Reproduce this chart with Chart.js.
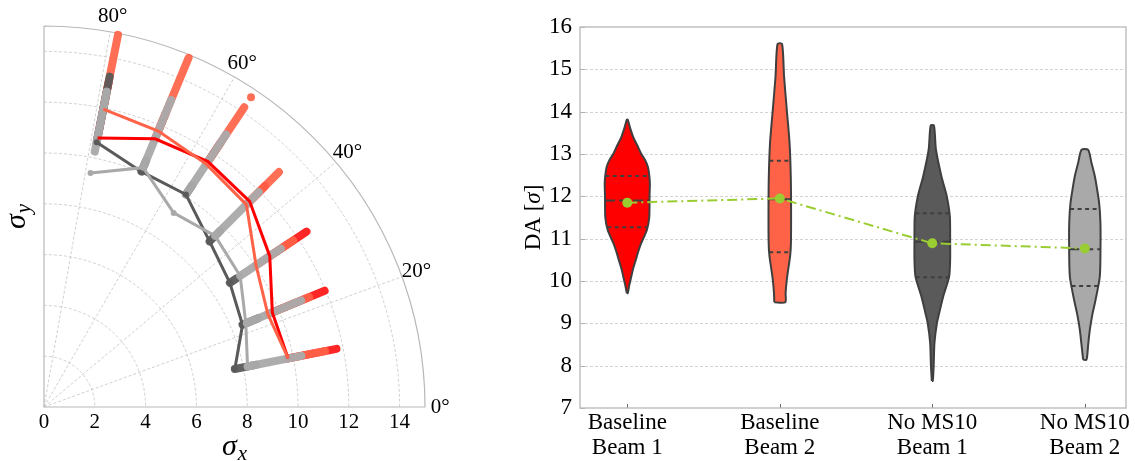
<!DOCTYPE html>
<html>
<head>
<meta charset="utf-8">
<script src="https://cdn.jsdelivr.net/npm/chart.js@4"></script>
<style>
  html, body { margin: 0; padding: 0; background: #fff; }
  #wrap { position: relative; width: 1135px; height: 461px; overflow: hidden; }
  #polarChart { position: absolute; left: 0; top: 0; }
  #violinChart { position: absolute; left: 480px; top: 0; }
</style>
</head>
<body>
<div id="wrap">
  <canvas id="polarChart" width="480" height="461" style="width:480px;height:461px"></canvas>
  <canvas id="violinChart" width="655" height="461" style="width:655px;height:461px"></canvas>
</div>
<script>
// ---- polar DA scan ----
const scanAngles = [11.25, 22.5, 33.75, 45, 56.25, 67.5, 78.75];
const radiusTicks = [0, 2, 4, 6, 8, 10, 12, 14];
const ringValues = [2, 4, 6, 8, 10, 12, 14];
const angleTicks = [0, 20, 40, 60, 80];
const rMax = 15;

// DA per angle, one curve per configuration
const daBaseB1 = [9.8, 9.73, 10.69, 11.45, 11.62, 11.43, 10.8];
const daBaseB2 = [9.8, 9.54, 10.04, 11.27, 11.5, 11.76, 11.96];
const daNoMsB1 = [7.66, 8.46, 8.8, 9.22, 10.06, 10.03, 10.63];
const daNoMsB2 = [8.17, 8.6, 9.29, 9.53, 9.19, 10.2, 9.39];

// spread of the seeds along each angle (lowest / highest)
const seedLoBaseB1 = [9.8, 9.73, 10.69, 11.45, 11.62, 11.43, 10.8];
const seedHiBaseB1 = [11.74, 11.96, 12.43, 12.3, 12.5, 12.5, 13.0];
const seedLoBaseB2 = [9.8, 9.54, 10.04, 11.27, 11.5, 11.76, 11.96];
const seedHiBaseB2 = [11.28, 11.3, 11.8, 13.08, 14.19, 14.88, 14.94];
const seedLoNoMsB1 = [7.66, 8.46, 8.8, 9.22, 10.06, 10.03, 10.63];
const seedHiNoMsB1 = [8.5, 9.13, 9.1, 9.8, 10.5, 10.5, 13.26];
const seedLoNoMsB2 = [8.17, 8.6, 9.29, 9.53, 10.06, 10.2, 10.25];
const seedHiNoMsB2 = [10.33, 10.96, 11.22, 11.96, 12.9, 13.09, 12.66];
// single seed sitting apart from the rest
const extraSeedAngle = [56.25];
const extraSeedR = [14.67];

// ---- violin summary ----
const categoryPos = [0, 1, 2, 3];
const categoryLabels = [['Baseline', 'Beam 1'], ['Baseline', 'Beam 2'], ['No MS10', 'Beam 1'], ['No MS10', 'Beam 2']];
const daTicks = [7, 8, 9, 10, 11, 12, 13, 14, 15, 16];

// density outlines: DA level and half width (category units)
const base1Y = [9.71, 9.9, 10.1, 10.3, 10.5, 10.7, 10.9, 11.2, 11.5, 12.0, 12.3, 12.5, 12.7, 12.85, 13.0, 13.2, 13.4, 13.6, 13.81];
const base1W = [0.003, 0.013, 0.026, 0.039, 0.056, 0.072, 0.092, 0.128, 0.144, 0.146, 0.148, 0.144, 0.135, 0.118, 0.092, 0.066, 0.039, 0.020, 0.003];
const base2Y = [9.5, 9.71, 10.0, 10.27, 10.6, 10.9, 11.68, 12.47, 13.26, 14.04, 14.83, 15.6];
const base2W = [0.036, 0.038, 0.045, 0.055, 0.068, 0.073, 0.074, 0.072, 0.064, 0.046, 0.028, 0.015];
const noms1Y = [7.64, 8.0, 8.53, 9.0, 9.3, 9.63, 10.1, 10.5, 10.9, 11.52, 12.0, 12.47, 13.1, 13.67];
const noms1W = [0.003, 0.009, 0.014, 0.030, 0.049, 0.071, 0.110, 0.117, 0.117, 0.115, 0.095, 0.060, 0.024, 0.011];
const noms2Y = [8.14, 8.5, 8.85, 9.2, 9.48, 10.1, 10.9, 11.4, 11.84, 12.2, 12.47, 12.8, 13.1];
const noms2W = [0.011, 0.022, 0.033, 0.049, 0.066, 0.098, 0.103, 0.102, 0.094, 0.079, 0.066, 0.043, 0.022];

// quartiles (Q1, median, Q3) and means
const base1Q = [11.27, 11.9, 12.48];
const base2Q = [10.68, 11.93, 12.84];
const noms1Q = [10.09, 10.93, 11.6];
const noms2Q = [9.88, 10.75, 11.7];
const daMeans = [11.85, 11.95, 10.89, 10.77];

const serif = '"Liberation Serif", "Times New Roman", serif';
const colRed = '#ff0000', colTomato = '#ff6347', colDark = '#5a5a5a', colLight = '#a9a9a9';

function toXY(r, deg) {
  const a = deg * Math.PI / 180;
  return { x: r * Math.cos(a), y: r * Math.sin(a) };
}

// ---------- polar chart ----------
const polarSeries = [
  { lo: seedLoBaseB1, hi: seedHiBaseB1, line: daBaseB1, color: colRed, band: 'rgba(255,0,0,0.85)', marker: 0 },
  { lo: seedLoBaseB2, hi: seedHiBaseB2, line: daBaseB2, color: colTomato, band: 'rgba(255,99,71,0.92)', marker: 0 },
  { lo: seedLoNoMsB1, hi: seedHiNoMsB1, line: daNoMsB1, color: colDark, band: 'rgba(90,90,90,0.95)', marker: 3 },
  { lo: seedLoNoMsB2, hi: seedHiNoMsB2, line: daNoMsB2, color: colLight, band: 'rgba(170,170,170,0.97)', marker: 3 }
];

const polarDatasets = [];
polarSeries.forEach((s, si) => {
  scanAngles.forEach((ang, i) => {
    polarDatasets.push({
      data: [toXY(s.lo[i], ang), toXY(s.hi[i], ang)],
      showLine: true,
      borderColor: s.band,
      borderWidth: 8,
      borderCapStyle: 'round',
      pointRadius: 0,
      order: 20 - si
    });
  });
  polarDatasets.push({
    data: scanAngles.map((ang, i) => toXY(s.line[i], ang)),
    showLine: true,
    borderColor: s.color,
    borderWidth: 3,
    pointRadius: s.marker,
    pointBackgroundColor: s.color,
    pointBorderWidth: 0,
    order: 5 - si
  });
});
polarDatasets.push({
  data: extraSeedAngle.map((ang, i) => toXY(extraSeedR[i], ang)),
  pointRadius: 4,
  pointBackgroundColor: 'rgba(255,99,71,0.92)',
  pointBorderWidth: 0,
  order: 18
});

const polarGrid = {
  id: 'polarGrid',
  beforeDatasetsDraw(chart) {
    const { ctx, scales: { x, y } } = chart;
    const ox = x.getPixelForValue(0), oy = y.getPixelForValue(0);
    const rad = v => x.getPixelForValue(v) - ox;
    ctx.save();
    ctx.strokeStyle = '#c4c4c4';
    ctx.lineWidth = 0.8;
    ctx.setLineDash([3, 2]);
    ringValues.forEach(r => {
      ctx.beginPath();
      ctx.arc(ox, oy, rad(r), -Math.PI / 2, 0);
      ctx.stroke();
    });
    angleTicks.slice(1).forEach(a => {
      const p = toXY(rMax, a);
      ctx.beginPath();
      ctx.moveTo(ox, oy);
      ctx.lineTo(x.getPixelForValue(p.x), y.getPixelForValue(p.y));
      ctx.stroke();
    });
    // frame: two straight edges and the outer arc
    ctx.setLineDash([]);
    ctx.strokeStyle = '#b8b8b8';
    ctx.lineWidth = 1.2;
    ctx.beginPath();
    ctx.moveTo(ox, oy - rad(rMax));
    ctx.lineTo(ox, oy);
    ctx.lineTo(ox + rad(rMax), oy);
    ctx.arc(ox, oy, rad(rMax), 0, -Math.PI / 2, true);
    ctx.stroke();
    ctx.restore();
  },
  afterDraw(chart) {
    const { ctx, scales: { x, y } } = chart;
    ctx.save();
    ctx.fillStyle = '#000';
    ctx.font = '21px ' + serif;
    ctx.textAlign = 'center';
    ctx.textBaseline = 'middle';
    angleTicks.forEach(a => {
      const p = toXY(15.6, a);
      ctx.fillText(a + '\u00b0', x.getPixelForValue(p.x), y.getPixelForValue(p.y));
    });
    const cx = (x.left + x.right) / 2;
    drawSub(ctx, '\u03c3', 'x', cx, 455);
    ctx.translate(25, (y.top + y.bottom) / 2);
    ctx.rotate(-Math.PI / 2);
    drawSub(ctx, '\u03c3', 'y', 0, 0);
    ctx.restore();
  }
};

function drawSub(ctx, main, sub, cx, base) {
  const mainFont = 'italic 30px ' + serif, subFont = 'italic 21px ' + serif;
  ctx.font = mainFont;
  const w1 = ctx.measureText(main).width;
  ctx.font = subFont;
  const w2 = ctx.measureText(sub).width;
  const x0 = cx - (w1 + w2 + 1) / 2;
  ctx.textAlign = 'left';
  ctx.textBaseline = 'alphabetic';
  ctx.font = mainFont;
  ctx.fillText(main, x0, base);
  ctx.font = subFont;
  ctx.fillText(sub, x0 + w1 + 1, base + 5);
}

new Chart(document.getElementById('polarChart'), {
  type: 'scatter',
  data: { datasets: polarDatasets },
  options: {
    responsive: false,
    animation: false,
    layout: { padding: { left: 44, top: 26, right: 55, bottom: 0 } },
    plugins: { legend: { display: false }, tooltip: { enabled: false } },
    scales: {
      x: {
        type: 'linear', min: 0, max: rMax,
        grid: { display: false, drawTicks: false },
        border: { display: false },
        afterBuildTicks: s => { s.ticks = radiusTicks.map(v => ({ value: v })); },
        afterFit: s => { s.height = 54; },
        ticks: { color: '#000', font: { family: serif, size: 21 }, padding: 3, maxRotation: 0, autoSkip: false }
      },
      y: { type: 'linear', min: 0, max: rMax, display: false }
    }
  },
  plugins: [polarGrid]
});

// ---------- violin chart ----------
const violins = [
  { ys: base1Y, ws: base1W, q: base1Q, fill: colRed },
  { ys: base2Y, ws: base2W, q: base2Q, fill: colTomato },
  { ys: noms1Y, ws: noms1W, q: noms1Q, fill: colDark },
  { ys: noms2Y, ws: noms2W, q: noms2Q, fill: colLight }
];

function widthAt(ys, ws, v) {
  for (let i = 0; i < ys.length - 1; i++) {
    if (v >= ys[i] && v <= ys[i + 1]) {
      const t = (v - ys[i]) / (ys[i + 1] - ys[i]);
      return ws[i] + t * (ws[i + 1] - ws[i]);
    }
  }
  return 0;
}

const violinDatasets = [];
violins.forEach((v, i) => {
  const c = categoryPos[i];
  const left = v.ys.map((yy, k) => ({ x: c - v.ws[k], y: yy }));
  const right = v.ys.map((yy, k) => ({ x: c + v.ws[k], y: yy })).reverse();
  violinDatasets.push({
    data: left.concat(right, [left[0]]),
    showLine: true,
    fill: 'shape',
    backgroundColor: v.fill,
    borderColor: '#3f3f3f',
    borderWidth: 2,
    tension: 0.25,
    pointRadius: 0,
    order: 10
  });
  v.q.forEach((qv, k) => {
    const hw = widthAt(v.ys, v.ws, qv);
    violinDatasets.push({
      data: [{ x: c - hw, y: qv }, { x: c + hw, y: qv }],
      showLine: true,
      borderColor: '#3f3f3f',
      borderWidth: 2,
      borderDash: k === 1 ? [10, 4] : [4, 3.5],
      pointRadius: 0,
      order: 5
    });
  });
});
violinDatasets.push({
  data: categoryPos.map((c, i) => ({ x: c, y: daMeans[i] })),
  showLine: true,
  borderColor: '#9acd32',
  borderWidth: 2,
  borderDash: [10, 4, 2, 4],
  pointRadius: 5,
  pointBackgroundColor: '#9acd32',
  pointBorderWidth: 0,
  order: 0
});

const violinFrame = {
  id: 'violinFrame',
  beforeDatasetsDraw(chart) {
    const { ctx, chartArea: a, scales: { x, y } } = chart;
    ctx.save();
    ctx.strokeStyle = '#c8c8c8';
    ctx.lineWidth = 0.8;
    ctx.setLineDash([3, 2]);
    daTicks.slice(1, -1).forEach(v => {
      const py = Math.round(y.getPixelForValue(v)) + 0.5;
      ctx.beginPath();
      ctx.moveTo(a.left, py);
      ctx.lineTo(a.right, py);
      ctx.stroke();
    });
    ctx.setLineDash([]);
    ctx.strokeStyle = '#b0b0b0';
    ctx.lineWidth = 1;
    // inward tick marks
    daTicks.forEach(v => {
      const py = Math.round(y.getPixelForValue(v)) + 0.5;
      ctx.beginPath();
      ctx.moveTo(a.left, py);
      ctx.lineTo(a.left + 5, py);
      ctx.stroke();
    });
    ctx.strokeStyle = '#666';
    categoryPos.forEach(v => {
      const px = Math.round(x.getPixelForValue(v)) + 0.5;
      ctx.beginPath();
      ctx.moveTo(px, a.bottom);
      ctx.lineTo(px, a.bottom - 4);
      ctx.stroke();
    });
    ctx.strokeStyle = '#bcbcbc';
    ctx.lineWidth = 1.4;
    ctx.strokeRect(a.left, a.top, a.right - a.left, a.bottom - a.top);
    ctx.restore();
  },
  afterDraw(chart) {
    const { ctx, chartArea: a } = chart;
    ctx.save();
    ctx.translate(60, (a.top + a.bottom) / 2);
    ctx.rotate(-Math.PI / 2);
    ctx.fillStyle = '#000';
    ctx.textBaseline = 'alphabetic';
    const upright = '23px ' + serif, slanted = 'italic 23px ' + serif;
    const parts = [['DA [', upright], ['\u03c3', slanted], [']', upright]];
    let total = 0;
    parts.forEach(p => { ctx.font = p[1]; total += ctx.measureText(p[0]).width; });
    let px = -total / 2;
    ctx.textAlign = 'left';
    parts.forEach(p => { ctx.font = p[1]; ctx.fillText(p[0], px, 0); px += ctx.measureText(p[0]).width; });
    ctx.restore();
  }
};

new Chart(document.getElementById('violinChart'), {
  type: 'scatter',
  data: { datasets: violinDatasets },
  options: {
    responsive: false,
    animation: false,
    layout: { padding: { left: 0, top: 27, right: 9, bottom: 0 } },
    plugins: { legend: { display: false }, tooltip: { enabled: false } },
    scales: {
      x: {
        type: 'linear', min: -0.31, max: 3.27,
        grid: { display: false, drawTicks: false },
        border: { display: false },
        afterBuildTicks: s => { s.ticks = categoryPos.map(v => ({ value: v })); },
        afterFit: s => { s.height = 53; },
        ticks: {
          color: '#000', font: { family: serif, size: 23, lineHeight: 1.1 }, padding: 2,
          maxRotation: 0, autoSkip: false,
          callback: (v, i) => categoryLabels[i]
        }
      },
      y: {
        type: 'linear', min: 7, max: 16,
        grid: { display: false, drawTicks: false },
        border: { display: false },
        afterBuildTicks: s => { s.ticks = daTicks.map(v => ({ value: v })); },
        afterFit: s => { s.width = 100; },
        ticks: { color: '#000', font: { family: serif, size: 23 }, padding: 8 }
      }
    }
  },
  plugins: [violinFrame]
});
</script>
</body>
</html>
